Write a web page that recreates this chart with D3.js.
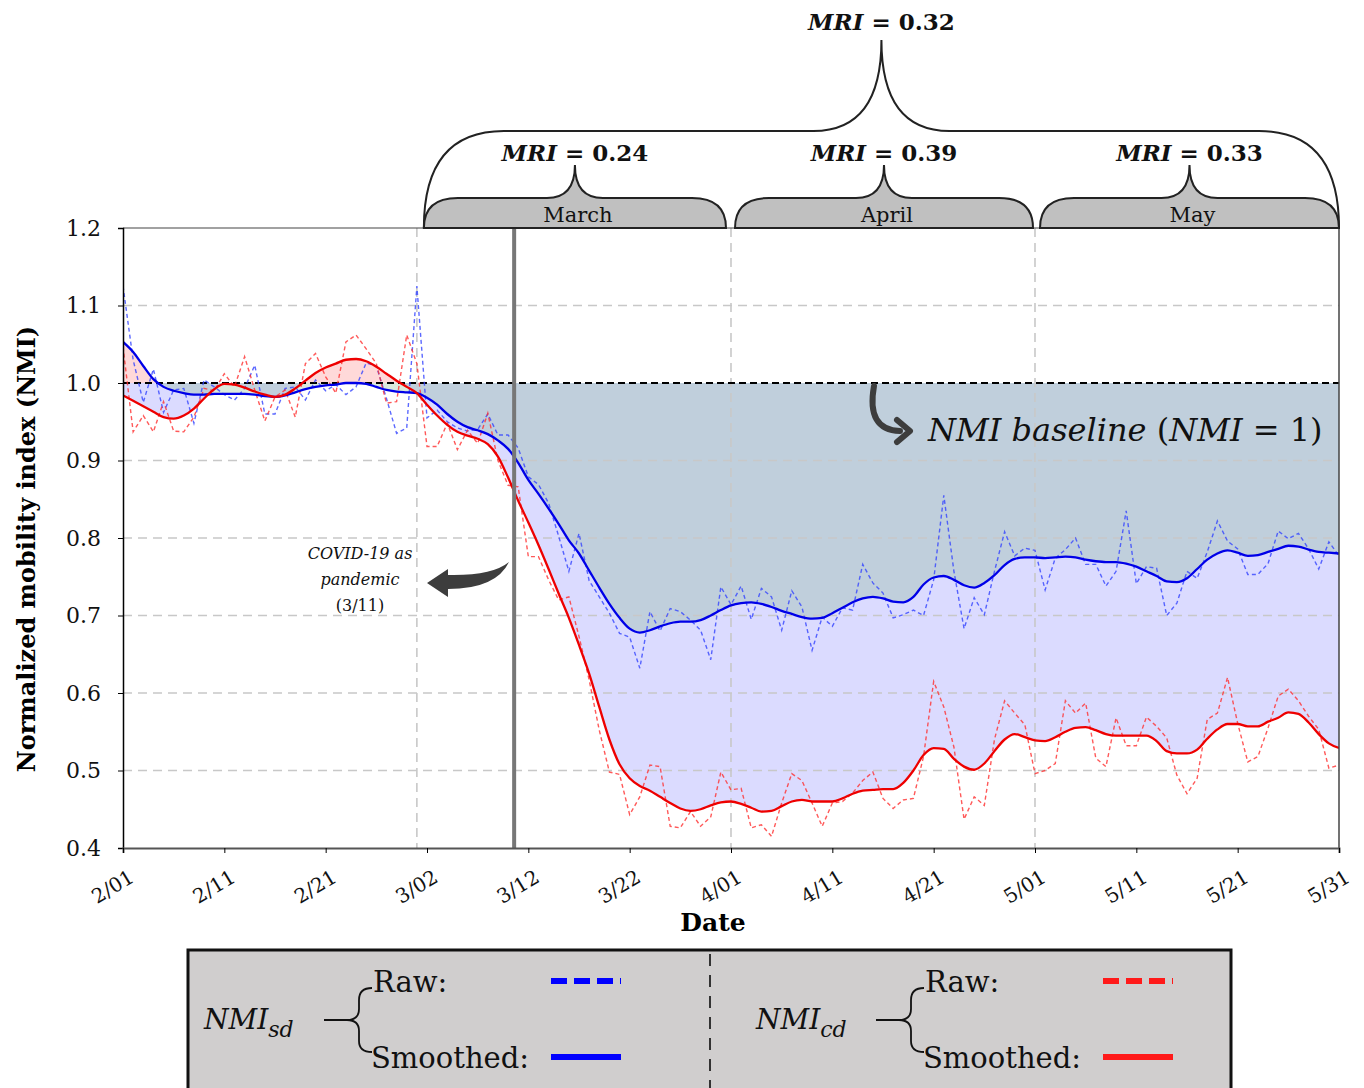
<!DOCTYPE html>
<html><head><meta charset="utf-8">
<script src="https://cdn.jsdelivr.net/npm/d3@7"></script>
<style>body{margin:0;background:#fff}svg{display:block}</style>
</head><body>
<script>
// ---------------- data ----------------
const tickLabels = ["2/01","2/11","2/21","3/02","3/12","3/22","4/01","4/11","4/21","5/01","5/11","5/21","5/31"];
const tickDays   = [0,10,20,30,40,50,60,70,80,90,100,110,120];
const yTicks = [0.4,0.5,0.6,0.7,0.8,0.9,1.0,1.1,1.2];

const sdRaw = [1.125,1.03,0.975,1.018,0.962,0.991,0.993,0.948,1.004,0.995,0.985,0.978,0.993,1.023,0.960,0.960,0.993,0.995,0.978,1.004,0.990,0.998,0.985,0.995,1.026,1.022,0.980,0.935,0.942,1.125,
0.955,0.965,0.950,0.942,0.938,0.940,0.960,0.933,0.933,0.916,0.879,0.869,0.845,0.802,0.757,0.806,0.745,0.724,0.703,0.677,0.672,0.632,0.705,0.680,0.709,0.705,0.694,0.681,0.643,0.737,
0.714,0.738,0.695,0.735,0.724,0.681,0.732,0.711,0.655,0.698,0.686,0.710,0.707,0.766,0.742,0.729,0.697,0.701,0.707,0.700,0.746,0.855,0.757,0.683,0.723,0.701,0.757,0.808,0.777,0.787,
0.784,0.733,0.774,0.785,0.800,0.766,0.766,0.738,0.757,0.835,0.741,0.763,0.761,0.700,0.716,0.757,0.748,0.782,0.822,0.796,0.786,0.753,0.753,0.767,0.809,0.799,0.806,0.786,0.760,0.795,0.777];

const sdSmooth = [1.053,1.040,1.022,1.005,0.995,0.990,0.987,0.985,0.985,0.986,0.986,0.986,0.986,0.985,0.983,0.982,0.984,0.988,0.992,0.995,0.997,0.998,1.000,1.000,0.999,0.995,0.991,0.989,0.988,0.987,
0.981,0.972,0.960,0.950,0.943,0.939,0.934,0.926,0.915,0.897,0.875,0.857,0.838,0.818,0.797,0.780,0.758,0.736,0.715,0.697,0.683,0.678,0.681,0.686,0.690,0.692,0.692,0.694,0.700,0.707,
0.713,0.716,0.717,0.715,0.711,0.706,0.702,0.698,0.696,0.697,0.703,0.710,0.717,0.722,0.724,0.722,0.718,0.717,0.724,0.740,0.749,0.751,0.746,0.739,0.736,0.742,0.752,0.765,0.773,0.775,
0.775,0.774,0.775,0.776,0.775,0.772,0.770,0.769,0.769,0.767,0.763,0.757,0.751,0.744,0.743,0.748,0.760,0.772,0.780,0.784,0.781,0.777,0.778,0.782,0.786,0.790,0.789,0.785,0.782,0.781,0.780];

const cdRaw = [1.047,0.937,0.958,0.937,0.976,0.938,0.937,0.956,0.993,0.990,1.012,0.995,1.034,0.991,0.951,0.982,0.991,0.956,1.025,1.038,1.008,0.987,1.053,1.062,1.044,1.025,0.974,0.976,1.062,1.025,
0.918,0.918,0.948,0.914,0.939,0.922,0.961,0.900,0.868,0.866,0.776,0.776,0.746,0.720,0.724,0.673,0.617,0.552,0.498,0.495,0.443,0.466,0.507,0.505,0.428,0.426,0.447,0.428,0.440,0.498,
0.475,0.477,0.426,0.430,0.415,0.458,0.496,0.487,0.458,0.428,0.458,0.460,0.471,0.487,0.498,0.464,0.451,0.462,0.464,0.518,0.615,0.582,0.530,0.437,0.466,0.455,0.540,0.590,0.574,0.559,
0.496,0.500,0.509,0.590,0.574,0.587,0.516,0.505,0.568,0.532,0.532,0.569,0.557,0.542,0.494,0.470,0.490,0.566,0.574,0.620,0.561,0.511,0.518,0.555,0.596,0.605,0.590,0.570,0.553,0.503,0.507];

const cdSmooth = [0.984,0.977,0.970,0.963,0.956,0.954,0.958,0.967,0.980,0.992,0.999,0.998,0.994,0.989,0.985,0.982,0.985,0.993,1.003,1.013,1.020,1.025,1.030,1.031,1.028,1.021,1.012,1.003,0.995,0.987,
0.972,0.958,0.946,0.937,0.932,0.928,0.921,0.905,0.878,0.848,0.820,0.791,0.760,0.728,0.697,0.662,0.625,0.582,0.540,0.508,0.490,0.480,0.474,0.466,0.458,0.451,0.448,0.450,0.455,0.459,
0.460,0.457,0.452,0.447,0.448,0.454,0.460,0.462,0.460,0.460,0.460,0.464,0.470,0.474,0.475,0.476,0.476,0.484,0.500,0.520,0.529,0.528,0.515,0.505,0.501,0.509,0.525,0.540,0.547,0.543,
0.539,0.538,0.543,0.550,0.555,0.556,0.552,0.547,0.545,0.545,0.545,0.545,0.538,0.525,0.522,0.522,0.527,0.541,0.553,0.560,0.560,0.557,0.557,0.563,0.568,0.575,0.573,0.562,0.547,0.535,0.529];

const monthNames = ["March","April","May"];
const monthStartDays = [29,60,90];
const monthEndDays = [60,90,120];
const mriMonth = [0.24,0.39,0.33];
const mriAll = 0.32;
const baseline = 1.0;
const covidDay = 38.6;

// ---------------- setup ----------------
const W=1364,H=1088;
const L=123,R=1339,T=228,B=848;
const svg=d3.select("body").append("svg").attr("width",W).attr("height",H)
  .style("font-family","'DejaVu Serif',serif");
const x=d3.scaleLinear().domain([0,120]).range([L,R]);
const y=d3.scaleLinear().domain([0.4,1.2]).range([B,T]);
const idx=d3.range(sdRaw.length);

const defs=svg.append("defs");
defs.append("clipPath").attr("id","above").append("rect").attr("x",L).attr("y",T).attr("width",R-L).attr("height",y(baseline)-T);
defs.append("clipPath").attr("id","below").append("rect").attr("x",L).attr("y",y(baseline)).attr("width",R-L).attr("height",B-y(baseline));
defs.append("clipPath").attr("id","plot").append("rect").attr("x",L).attr("y",T).attr("width",R-L).attr("height",B-T);

const smoothCurve=d3.curveMonotoneX;
const areaOf=arr=>d3.area().curve(smoothCurve).x(i=>x(i)).y0(y(baseline)).y1(i=>y(arr[i]));
// fills
svg.append("path").datum(idx).attr("d",areaOf(cdSmooth)).attr("clip-path","url(#below)").attr("fill","rgba(0,0,255,0.14)");
svg.append("path").datum(idx).attr("d",areaOf(cdSmooth)).attr("clip-path","url(#above)").attr("fill","rgba(255,0,0,0.15)");
svg.append("path").datum(idx).attr("d",areaOf(sdSmooth)).attr("clip-path","url(#above)").attr("fill","rgba(255,0,0,0.15)");
svg.append("path").datum(idx).attr("d",areaOf(sdSmooth)).attr("clip-path","url(#below)").attr("fill","rgba(111,171,115,0.25)");

// grid
const g=svg.append("g");
yTicks.filter(v=>v>0.45&&v<1.15&&Math.abs(v-baseline)>1e-6).forEach(v=>{
  g.append("line").attr("x1",L).attr("x2",R).attr("y1",y(v)).attr("y2",y(v))
   .attr("stroke","#c8c8c8").attr("stroke-width",1.6).attr("stroke-dasharray","9,6");
});
monthStartDays.forEach(d=>{
  g.append("line").attr("x1",x(d)).attr("x2",x(d)).attr("y1",T).attr("y2",B)
   .attr("stroke","#c8c8c8").attr("stroke-width",1.6).attr("stroke-dasharray","9,6");
});

// baseline
svg.append("line").attr("x1",L).attr("x2",R).attr("y1",y(baseline)).attr("y2",y(baseline))
  .attr("stroke","#000").attr("stroke-width",2.2).attr("stroke-dasharray","7,4");

// lines
const lineOf=(arr,c)=>d3.line().curve(c||d3.curveLinear).x(i=>x(i)).y(i=>y(arr[i]));
const pl=svg.append("g").attr("clip-path","url(#plot)");
pl.append("path").datum(idx).attr("d",lineOf(sdRaw)).attr("fill","none").attr("stroke","#3344ff").attr("stroke-opacity",0.8).attr("stroke-width",1.4).attr("stroke-dasharray","4,3");
pl.append("path").datum(idx).attr("d",lineOf(cdRaw)).attr("fill","none").attr("stroke","#ff3030").attr("stroke-opacity",0.8).attr("stroke-width",1.4).attr("stroke-dasharray","4,3");
pl.append("path").datum(idx).attr("d",lineOf(sdSmooth,smoothCurve)).attr("fill","none").attr("stroke","#0000e8").attr("stroke-width",2.3);
pl.append("path").datum(idx).attr("d",lineOf(cdSmooth,smoothCurve)).attr("fill","none").attr("stroke","#ee0000").attr("stroke-width",2.3);

// covid line
svg.append("line").attr("x1",x(covidDay)).attr("x2",x(covidDay)).attr("y1",T).attr("y2",B)
  .attr("stroke","#777").attr("stroke-width",4);

// frame
svg.append("line").attr("x1",L).attr("x2",R).attr("y1",T).attr("y2",T).attr("stroke","#444").attr("stroke-width",1.2);
svg.append("line").attr("x1",R).attr("x2",R).attr("y1",T).attr("y2",B).attr("stroke","#444").attr("stroke-width",1.5);

// axes
const yAxis=svg.append("g").attr("transform",`translate(${L},0)`)
  .call(d3.axisLeft(y).tickValues(yTicks).tickFormat(d3.format(".1f")).tickSize(5).tickPadding(17));
yAxis.select(".domain").attr("stroke","#000").attr("stroke-width",1.5);
yAxis.selectAll("text").attr("font-size",22).attr("font-family","'DejaVu Serif',serif").attr("fill","#111");

const xAxis=svg.append("g").attr("transform",`translate(0,${B})`)
  .call(d3.axisBottom(x).tickValues(tickDays).tickFormat((d,i)=>tickLabels[i]).tickSize(5));
xAxis.select(".domain").attr("stroke","#555").attr("stroke-width",2);
xAxis.selectAll("text").attr("font-size",20).attr("font-family","'DejaVu Serif',serif").attr("fill","#111")
  .attr("text-anchor","end").attr("y",0).attr("dy",0).attr("transform","translate(12,33) rotate(-31)");

svg.append("text").attr("x",713).attr("y",931).attr("text-anchor","middle").attr("font-size",25).attr("font-weight","bold").text("Date");
svg.append("text").attr("transform","translate(35,549) rotate(-90)").attr("text-anchor","middle").attr("font-size",24).attr("font-weight","bold").text("Normalized mobility index (NMI)");

// annotations
const ann=svg.append("g").attr("font-size",16).attr("text-anchor","middle").attr("fill","#111");
ann.append("text").attr("x",360).attr("y",559).attr("font-style","italic").text("COVID-19 as");
ann.append("text").attr("x",360).attr("y",585).attr("font-style","italic").text("pandemic");
ann.append("text").attr("x",360).attr("y",611).text("(3/11)");
svg.append("path").attr("d","M509,562 Q492,576 448,575 L448,569 L427,583 L448,597 L448,589 Q496,589 509,562 Z").attr("fill","#3d3d3d");

svg.append("path").attr("d","M874,386 Q866,430 900,431").attr("fill","none").attr("stroke","#3d3d3d").attr("stroke-width",6).attr("stroke-linecap","round");
svg.append("path").attr("d","M897,420 L910,431 L897,442").attr("fill","none").attr("stroke","#3d3d3d").attr("stroke-width",6).attr("stroke-linecap","round").attr("stroke-linejoin","round");
svg.append("text").attr("x",928).attr("y",441).attr("font-size",32).attr("font-style","italic").attr("fill","#111")
  .html('NMI baseline <tspan font-style="normal">(</tspan>NMI <tspan font-style="normal">= 1)</tspan>');

// braces
function bracePath(x1,x2,yb,yt,ytip,r,r2){
  const xc=(x1+x2)/2;
  return `M${x1},${yb} Q${x1},${yt} ${x1+r},${yt} L${xc-r2},${yt} Q${xc},${yt} ${xc},${ytip} Q${xc},${yt} ${xc+r2},${yt} L${x2-r},${yt} Q${x2},${yt} ${x2},${yb}`;
}
const bx1=[x(monthStartDays[0])+7, x(monthStartDays[1])+4, x(monthStartDays[2])+5];
const bx2=[x(monthEndDays[0])-5, x(monthEndDays[1])-2, x(monthEndDays[2])];
monthNames.forEach((m,i)=>{
  svg.append("path").attr("d",bracePath(bx1[i],bx2[i],T,198,165,34,28)+" Z").attr("fill","#c0c0c0").attr("stroke","#222").attr("stroke-width",2);
  const xc=(bx1[i]+bx2[i])/2;
  svg.append("text").attr("x",xc+3).attr("y",222).attr("text-anchor","middle").attr("font-size",21).attr("fill","#111").text(m);
  svg.append("text").attr("x",xc).attr("y",161).attr("text-anchor","middle").attr("font-size",23).attr("font-weight","bold").attr("fill","#111")
    .html(`<tspan font-style="italic">MRI</tspan> = ${mriMonth[i].toFixed(2)}`);
});
svg.append("path").attr("d",bracePath(bx1[0],bx2[2],T,131,40,80,68)).attr("fill","none").attr("stroke","#222").attr("stroke-width",2);
svg.append("text").attr("x",(bx1[0]+bx2[2])/2).attr("y",30).attr("text-anchor","middle").attr("font-size",23).attr("font-weight","bold").attr("fill","#111")
  .html(`<tspan font-style="italic">MRI</tspan> = ${mriAll.toFixed(2)}`);

// legend
const lg=svg.append("g");
lg.append("rect").attr("x",188).attr("y",950).attr("width",1043).attr("height",160).attr("fill","#d0cece").attr("stroke","#111").attr("stroke-width",3);
lg.append("line").attr("x1",710).attr("x2",710).attr("y1",954).attr("y2",1088).attr("stroke","#333").attr("stroke-width",2).attr("stroke-dasharray","12,9");
function legendGroup(x0,sub,color){
  const gg=lg.append("g").attr("fill","#111");
  gg.append("text").attr("x",x0).attr("y",1029).attr("font-size",28).attr("font-style","italic")
    .html(`NMI<tspan font-size="22" dy="8">${sub}</tspan>`);
  const bx=x0+155;
  gg.append("path").attr("d",`M${bx+13},988 Q${bx},988 ${bx},1000 L${bx},1009 Q${bx},1020 ${bx-12},1020 L${bx-35},1020 M${bx-12},1020 Q${bx},1020 ${bx},1031 L${bx},1041 Q${bx},1052 ${bx+13},1052`)
    .attr("fill","none").attr("stroke","#111").attr("stroke-width",1.8);
  gg.append("text").attr("x",bx+14).attr("y",992).attr("font-size",29).text("Raw:");
  gg.append("text").attr("x",bx+12).attr("y",1068).attr("font-size",29).text("Smoothed:");
  const lx=bx+192;
  gg.append("line").attr("x1",lx).attr("x2",lx+70).attr("y1",981).attr("y2",981).attr("stroke",color).attr("stroke-width",6).attr("stroke-dasharray","16,7");
  gg.append("line").attr("x1",lx).attr("x2",lx+70).attr("y1",1057).attr("y2",1057).attr("stroke",color).attr("stroke-width",6);
}
legendGroup(204,"sd","#0000ff");
legendGroup(756,"cd","#ff1a1a");
</script>
</body></html>
